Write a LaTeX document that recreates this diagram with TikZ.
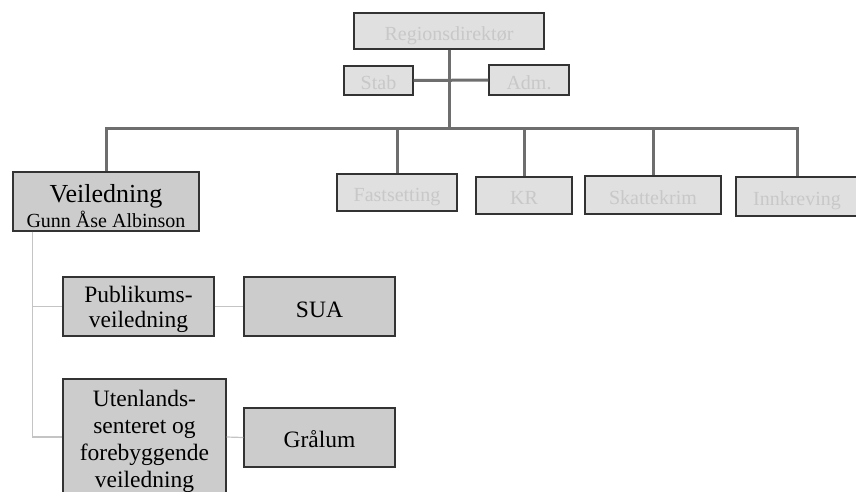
\documentclass[tikz,border=0pt]{standalone}
\usepackage{fontspec}
\setmainfont{Liberation Serif}
\definecolor{upfill}{HTML}{E0E0E0}
\definecolor{uptext}{HTML}{C8C8C8}
\definecolor{lowfill}{HTML}{CCCCCC}
\definecolor{busgray}{HTML}{6E6E6E}
\definecolor{thingray}{HTML}{C4C4C4}
\definecolor{edge}{HTML}{333333}
\begin{document}
\begin{tikzpicture}[x=1pt,y=-1pt,
  unit/.style={draw=edge, line width=1.2pt, inner sep=0pt, align=center, text depth=0pt},
  upper/.style={unit, fill=upfill, text=uptext, font=\fontsize{20}{24}\selectfont, text height=18pt},
  lower/.style={unit, fill=lowfill, text=black},
  bus/.style={draw=busgray, line width=3pt},
  twig/.style={draw=thingray, line width=1.2pt}]
\useasboundingbox (0,0) rectangle (856,491);

% top management
\node[upper, minimum width=190pt, minimum height=36pt] (rd) at (449,31) {Regionsdirektør};
\node[upper, minimum width=69pt, minimum height=29pt] (stab) at (378.5,80.5) {Stab};
\node[upper, minimum width=80pt, minimum height=30pt] (adm) at (529,80) {Adm.};

% divisions
\node[lower, minimum width=186pt, minimum height=59pt, text height=51pt,
      font=\fontsize{20}{25}\selectfont] (veil) at (106,201.5)
      {{\fontsize{26}{25}\selectfont Veiledning}\\Gunn Åse Albinson};
\node[upper, minimum width=120pt, minimum height=37pt] (fast) at (397,192.5) {Fastsetting};
\node[upper, minimum width=96pt, minimum height=37pt] (kr) at (524,195.5) {KR};
\node[upper, minimum width=136pt, minimum height=38pt] (skat) at (653,195) {Skattekrim};
\node[upper, minimum width=122pt, minimum height=39pt] (innk) at (797,196.5) {Innkreving};

% sections under Veiledning
\node[lower, minimum width=151pt, minimum height=59pt, text height=41pt,
      font=\fontsize{23.5}{25}\selectfont] (pub) at (138.5,306.5) {Publikums-\\veiledning};
\node[lower, minimum width=151pt, minimum height=59pt, text height=21pt,
      font=\fontsize{23.5}{25}\selectfont] (sua) at (319.5,306.5) {SUA};
\node[lower, minimum width=163pt, minimum height=116pt, text height=100pt,
      font=\fontsize{23.5}{27}\selectfont] (uten) at (144.5,437)
      {Utenlands-\\senteret og\\forebyggende\\veiledning};
\node[lower, minimum width=151pt, minimum height=59pt, text height=20pt,
      font=\fontsize{23.5}{27}\selectfont] (gral) at (319.5,437.5) {Grålum};

% main bus
\coordinate (hub) at (449,128);
\draw[bus] (rd.south) -- (hub);
\draw[bus] (stab.east) -- (adm.west);
\draw[bus] (veil.north) |- (hub) -| (innk.north);
\draw[bus] (hub -| fast.north) -- (fast.north);
\draw[bus] (hub -| kr.north) -- (kr.north);
\draw[bus] (hub -| skat.north) -- (skat.north);

% branches below Veiledning
\coordinate (v0) at ([xshift=20pt]veil.south west);
\draw[twig] (v0) |- (uten.west);
\draw[twig] (v0 |- pub.west) -- (pub.west);
\draw[twig] (pub.east) -- (sua.west);
\draw[twig] (uten.east) -- (gral.west);
\end{tikzpicture}
\end{document}
